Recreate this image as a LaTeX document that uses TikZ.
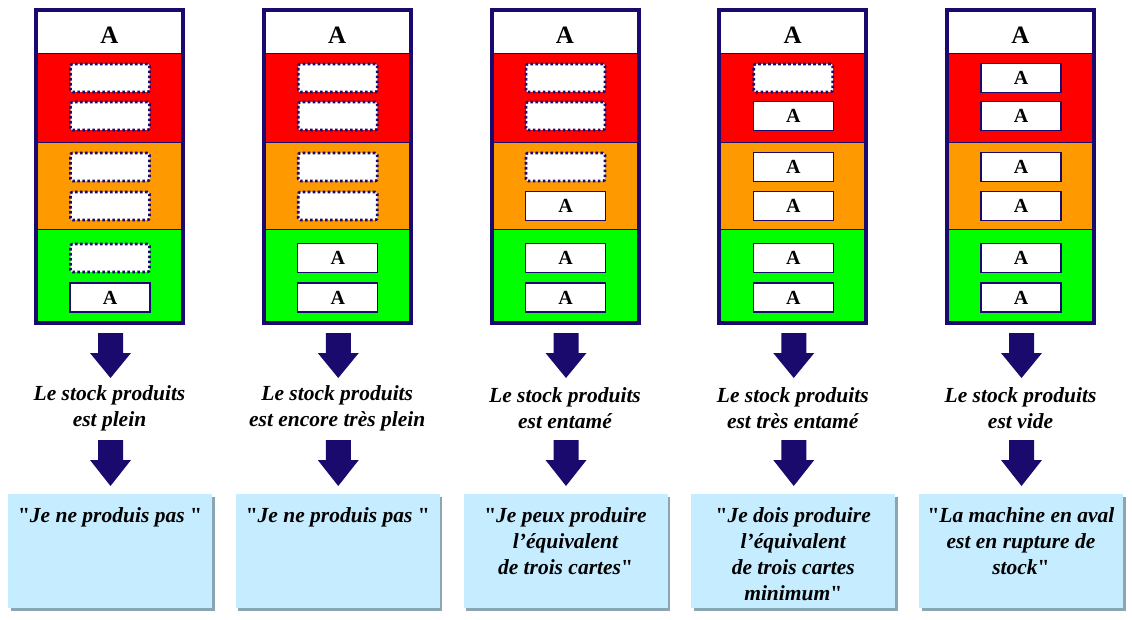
\documentclass[tikz,border=0pt]{standalone}
\usepackage{fontspec}
\setmainfont{Liberation Serif}
\newfontfamily\qfont{Liberation Serif}[Ligatures=TeXOff]
\definecolor{navy}{HTML}{1A0A6E}
\definecolor{cred}{HTML}{FF0000}
\definecolor{corange}{HTML}{FF9900}
\definecolor{cgreen}{HTML}{00FF00}
\definecolor{cbox}{HTML}{C6ECFF}
\definecolor{cshadow}{HTML}{8AA6B4}
\newcommand\myq{{\qfont\upshape\bfseries\symbol{34}}}
\tikzset{
  frame/.style={draw=navy, line width=4pt},
  band/.style={draw=navy, line width=0.8pt},
  emptyslot/.style={draw=navy, fill=white, line width=2.6pt, dash pattern=on 2.6pt off 2.4pt, rounded corners=2pt, minimum width=79pt, minimum height=28pt, inner sep=0pt},
  fullslot/.style={draw=navy, fill=white, line width=1.3pt, minimum width=80pt, minimum height=29pt, inner sep=0pt, font=\fontsize{20}{21}\selectfont\bfseries},
  headA/.style={font=\fontsize{25}{26}\selectfont\bfseries, inner sep=0pt},
  blockarrow/.style={fill=navy, draw=none},
  state/.style={font=\fontsize{21.5}{26}\selectfont\bfseries\itshape, align=center, inner sep=0pt},
  saybox/.style={fill=cbox, minimum width=204pt, minimum height=114pt, anchor=north, inner sep=0pt},
  saytext/.style={font=\fontsize{21.5}{25.8}\selectfont\bfseries\itshape, align=center, anchor=north, inner sep=0pt},
}
\begin{document}
\begin{tikzpicture}[x=1pt,y=-1pt]
\useasboundingbox (0,0) rectangle (1132,620);
\foreach \i/\n/\st/\sa in {
 1/1/{Le stock produits\\est plein}/{\myq Je ne produis pas \myq},
 2/2/{Le stock produits\\est encore très plein}/{\myq Je ne produis pas \myq},
 3/3/{Le stock produits\\est entamé}/{\myq Je peux produire\\l’équivalent\\de trois cartes\myq},
 4/5/{Le stock produits\\est très entamé}/{\myq Je dois produire\\l’équivalent\\de trois cartes\\minimum\myq},
 5/6/{Le stock produits\\est vide}/{\myq La machine en aval\\est en rupture de\\stock\myq}} {
  \pgfmathsetmacro{\cx}{109.5+227.75*(\i-1)}
  % bands
  \fill[white] (\cx-73.5,10) rectangle (\cx+73.5,53);
  \fill[cred] (\cx-73.5,53) rectangle (\cx+73.5,142);
  \fill[corange] (\cx-73.5,142) rectangle (\cx+73.5,229);
  \fill[cgreen] (\cx-73.5,229) rectangle (\cx+73.5,323);
  \draw[band] (\cx-73.5,53) -- (\cx+73.5,53);
  \draw[band] (\cx-73.5,142) -- (\cx+73.5,142);
  \draw[band] (\cx-73.5,229) -- (\cx+73.5,229);
  \node[frame, minimum width=147pt, minimum height=313pt, inner sep=0pt] (frame\i) at (\cx,166.5) {};
  \node[headA] (head\i) at (\cx,35) {A};
  % slots
  \foreach \k/\sy in {1/78,2/116,3/167,4/206,5/258,6/297.5} {
    \pgfmathtruncatemacro{\filled}{\k>6-\n ? 1 : 0}
    \ifnum\filled=1
      \node[fullslot] (slot\i-\k) at (\cx+0.5,\sy) {A};
    \else
      \node[emptyslot] (slot\i-\k) at (\cx+0.5,\sy) {};
    \fi
  }
  % first arrow
  \fill[blockarrow] (\cx-11.5,333) -- (\cx-11.5,353) -- (\cx-19.5,353) -- (\cx+1,378) -- (\cx+21.5,353) -- (\cx+13.5,353) -- (\cx+13.5,333) -- cycle;
  \node[state] (state\i) at (\cx,408) {\st};
  % second arrow
  \fill[blockarrow] (\cx-11.5,440) -- (\cx-11.5,460) -- (\cx-19.5,460) -- (\cx+1,486) -- (\cx+21.5,460) -- (\cx+13.5,460) -- (\cx+13.5,440) -- cycle;
  % say box
  \fill[cshadow] (\cx-99,497) rectangle (\cx+105,611);
  \node[saybox] (box\i) at (\cx+0.5,494) {};
  \node[saytext] (say\i) at (\cx+0.5,507.5) {\sa};
}
\end{tikzpicture}
\end{document}
